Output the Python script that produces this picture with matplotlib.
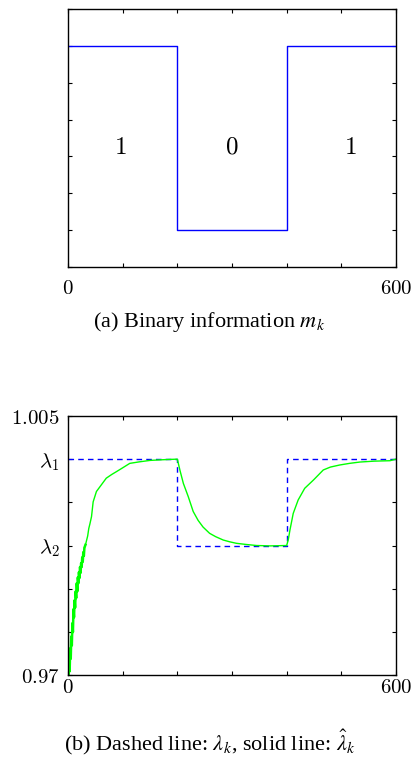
import numpy as np
import matplotlib
matplotlib.use("Agg")
import matplotlib.pyplot as plt

plt.rcParams['mathtext.fontset'] = 'cm'
plt.rcParams['font.family'] = ['DejaVu Serif']

# binary information m_k (piecewise constant, steps-post)
k_switch = [0, 200, 400, 600]
m_vals = [1, 0, 1, 1]
region_x = [95, 300, 517]
region_txt = ['1', '0', '1']

# true parameter lambda_k and estimate
lam1 = 0.99917
lam2 = 0.9875
lam_vals = [lam1, lam2, lam1, lam1]

k_est = [0, 1, 2, 3, 4, 5, 6, 7, 8, 9, 10, 11, 12, 13, 14, 15, 16, 17, 18, 19,
         20, 21, 22, 23, 24, 25, 26, 27, 28, 29, 30, 32, 34, 36, 38, 40, 43,
         46, 52, 60, 70, 80, 89, 100, 113, 130, 150, 170,
         185, 200, 205, 211, 220, 229, 238, 247, 259, 270, 284, 296, 308, 325,
         345, 370, 400, 403, 406, 412, 421, 433, 449, 467, 480, 497, 515, 534,
         560, 589, 600]
lam_est = [0.99917, 0.9695, 0.9716, 0.9705, 0.9736, 0.9722, 0.9752, 0.9740,
           0.9770, 0.9758, 0.9789, 0.9778, 0.9801, 0.9791, 0.9813, 0.9804,
           0.9824, 0.9813, 0.9832, 0.9824, 0.9839, 0.9831, 0.9846, 0.9838,
           0.9851, 0.9846, 0.9859, 0.9853, 0.9866, 0.9861, 0.9872, 0.9876,
           0.9882, 0.9888, 0.9898, 0.9904,
           0.9914, 0.9934, 0.9948, 0.9956, 0.9966, 0.9971, 0.9975, 0.9980,
           0.9986, 0.9988, 0.9990, 0.99908, 0.99913, 0.99917, 0.9976, 0.9959,
           0.9941, 0.9921, 0.9909, 0.9900, 0.98915, 0.9887, 0.98824, 0.9880,
           0.98780, 0.98765, 0.98750, 0.98745, 0.9875, 0.9883, 0.98959,
           0.99184, 0.99365, 0.99523, 0.99635, 0.99771, 0.9981, 0.99838,
           0.9986, 0.99878, 0.9989, 0.99896, 0.99917]
n_noisy = 32  # first points of the estimate, drawn heavier

y_ticks_b = [0.97, 0.97583, 0.98167, 0.9875, 0.99333, 0.99917, 1.005]
y_labels_b = ['$0.97$', '', '', r'$\lambda_2$', '', r'$\lambda_1$', '$1.005$']

fig = plt.figure(figsize=(4.19, 7.65), dpi=100)


def style_axes(ax, xpad):
    for s in ax.spines.values():
        s.set_linewidth(1.0)
    ax.tick_params(direction='in', length=3, width=0.8, top=True, right=True,
                   labelsize=15, colors='black')
    ax.tick_params(axis='x', pad=xpad)
    ax.set_xlim(0, 600)
    ax.set_xticks(np.arange(0, 601, 100))
    ax.set_xticklabels(['$0$', '', '', '', '', '', '$600$'])


# (a)
ax1 = fig.add_axes([0.1623, 0.651, 0.7828, 0.3373])
ax1.plot(k_switch, m_vals, drawstyle='steps-post', color='#0000ff', lw=1.0)
ax1.set_ylim(-0.2, 1.2)
ax1.set_yticks(np.arange(-0.2, 1.21, 0.2))
ax1.set_yticklabels([])
style_axes(ax1, 9)
for x, t in zip(region_x, region_txt):
    ax1.text(x, 0.45, '$' + t + '$', fontsize=18, ha='center', va='center')
fig.text(0.5, 1 - 322 / 765, r'(a) Binary information $m_k$', ha='center',
         va='center', fontsize=16, family='Liberation Serif',
         math_fontfamily='stix')

# (b)
ax2 = fig.add_axes([0.1623, 0.1176, 0.7828, 0.3386])
ax2.plot(k_switch, lam_vals, drawstyle='steps-post', color='#0000ff', lw=1.0,
         dashes=(4, 3))
ax2.plot(k_est, lam_est, color='#00ff00', lw=1.0)
ax2.plot(k_est[1:n_noisy], lam_est[1:n_noisy], color='#00ff00', lw=1.8)
ax2.set_ylim(0.97, 1.005)
ax2.set_yticks(y_ticks_b)
ax2.set_yticklabels(y_labels_b)
ax2.tick_params(axis='y', pad=6)
style_axes(ax2, 2)
fig.text(0.5, 1 - 742 / 765,
         r'(b) Dashed line: $\lambda_k$, solid line: $\hat{\lambda}_k$',
         ha='center', va='center', fontsize=16, family='Liberation Serif',
         math_fontfamily='stix')

fig.savefig('out.png', dpi=100)
